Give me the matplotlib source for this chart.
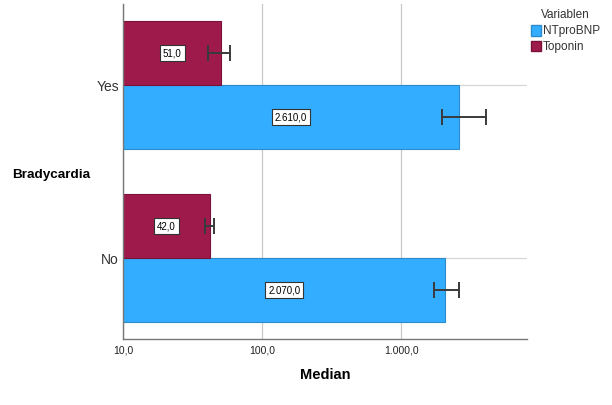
import matplotlib
matplotlib.use("Agg")
import matplotlib.pyplot as plt
import numpy as np
from matplotlib.ticker import FixedLocator, NullLocator
from matplotlib.patches import Patch

plt.rcParams['font.family'] = ['Liberation Sans', 'DejaVu Sans']

categories = ["No", "Yes"]
series = ["NTproBNP", "Toponin"]
ntprobnp = [2070.0, 2610.0]
ntprobnp_lo = [1720.0, 1960.0]
ntprobnp_hi = [2620.0, 4040.0]
troponin = [42.0, 51.0]
troponin_lo = [39.0, 40.5]
troponin_hi = [45.0, 58.5]
xticks = [10, 100, 1000]
xticklabels = ["10,0", "100,0", "1.000,0"]
bar_labels_nt = ["2.070,0", "2.610,0"]
bar_labels_tr = ["42,0", "51,0"]

blue = "#33adff"
blue_edge = "#2d8acb"
maroon = "#9e1a4a"
maroon_edge = "#7a1238"
err_col = "#3a3a3a"

fig = plt.figure(figsize=(6.12, 4.05), dpi=100)
ax = fig.add_axes([0.201, 0.163, 0.660, 0.827])
ax.set_xscale("log")
xmin = 10
ax.set_xlim(xmin, 8000)
ax.set_ylim(-0.468, 1.468)

y = np.arange(len(categories))
h = 0.37

ax.barh(y - h / 2, np.array(ntprobnp) - xmin, left=xmin, height=h, color=blue,
        edgecolor=blue_edge, linewidth=0.8, zorder=2)
ax.barh(y + h / 2, np.array(troponin) - xmin, left=xmin, height=h, color=maroon,
        edgecolor=maroon_edge, linewidth=0.8, zorder=2)

ax.errorbar(ntprobnp, y - h / 2,
            xerr=[np.array(ntprobnp) - np.array(ntprobnp_lo), np.array(ntprobnp_hi) - np.array(ntprobnp)],
            fmt="none", ecolor=err_col, elinewidth=1.4, capsize=6, capthick=1.4, zorder=3)
ax.errorbar(troponin, y + h / 2,
            xerr=[np.array(troponin) - np.array(troponin_lo), np.array(troponin_hi) - np.array(troponin)],
            fmt="none", ecolor=err_col, elinewidth=1.4, capsize=6, capthick=1.4, zorder=3)

box = dict(boxstyle="square,pad=0.3", facecolor="white", edgecolor="#333333", linewidth=0.8)
for i in range(len(categories)):
    ax.text(np.sqrt(xmin * ntprobnp[i]), y[i] - h / 2, bar_labels_nt[i], ha="center", va="center",
            fontsize=7, bbox=box, zorder=4)
    ax.text(np.sqrt(xmin * troponin[i]), y[i] + h / 2, bar_labels_tr[i], ha="center", va="center",
            fontsize=7, bbox=box, zorder=4)

ax.xaxis.set_major_locator(FixedLocator(xticks))
ax.xaxis.set_minor_locator(NullLocator())
ax.set_xticklabels(xticklabels, fontsize=7.5, color="#222222")
ax.set_yticks(y)
ax.set_yticklabels(categories, fontsize=10, color="#333333")
ax.tick_params(axis="x", length=0, pad=5)
ax.tick_params(axis="y", length=0, pad=3)

ax.grid(True, axis="x", color="#c8c8c8", linewidth=0.9, zorder=0)
ax.grid(True, axis="y", color="#d6d6d6", linewidth=0.9, zorder=0)
ax.set_axisbelow(True)

for s in ["top", "right"]:
    ax.spines[s].set_visible(False)
for s in ["left", "bottom"]:
    ax.spines[s].set_color("#777777")
    ax.spines[s].set_linewidth(1.0)

ax.set_xlabel("Median", fontsize=10.5, fontweight="bold", labelpad=9)
fig.text(0.083, 0.567, "Bradycardia", fontsize=9.7, fontweight="bold", ha="center", va="center")

handles = [Patch(facecolor=blue, edgecolor=blue_edge), Patch(facecolor=maroon, edgecolor=maroon_edge)]
leg = fig.legend(handles, series, title="Variablen", loc="upper left", bbox_to_anchor=(0.852, 1.0),
                 fontsize=8.5, title_fontsize=8.5, frameon=False, handlelength=0.85, handleheight=1.0,
                 handletextpad=0.15, borderpad=0.3, labelspacing=0.3)
for t in leg.get_texts():
    t.set_color("#333333")
leg.get_title().set_color("#333333")

fig.savefig("out.png", dpi=100)
